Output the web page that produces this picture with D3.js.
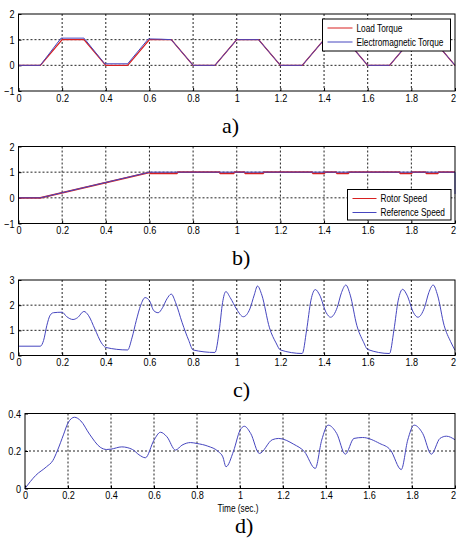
<!DOCTYPE html>
<html>
<head>
<meta charset="utf-8">
<script src="https://cdn.jsdelivr.net/npm/d3@7"></script>
<style>
    body { margin: 0; background: #fff; }
    svg { display: block; }
    .tick-label { font-family: "Liberation Sans", Arial, sans-serif; font-size: 11px; fill: #000; }
    .legend-label { font-family: "Liberation Sans", Arial, sans-serif; font-size: 10px; fill: #000; }
    .caption { font-family: "Liberation Serif", "Times New Roman", serif; font-size: 22px; fill: #000; }
</style>
</head>
<body>
<div id="viz"></div>
<script>
// x ticks shared by all panels
const timeTicks = [0, 0.2, 0.4, 0.6, 0.8, 1, 1.2, 1.4, 1.6, 1.8, 2];

// a) torque
const loadTorqueT = [0, 0.1, 0.2, 0.3, 0.4, 0.5, 0.6, 0.7, 0.8, 0.9, 1.0, 1.1, 1.2, 1.3, 1.4, 1.5, 1.6, 1.7, 1.8, 1.9, 2.0];
const loadTorqueV = [0, 0, 1, 1, 0, 0, 1, 1, 0, 0, 1, 1, 0, 0, 1, 1, 0, 0, 1, 1, 0];
const emTorqueT = [0, 0.1, 0.195, 0.3, 0.395, 0.5, 0.595, 0.65, 0.7, 0.8, 0.9, 1.0, 1.1, 1.2, 1.3, 1.4, 1.5, 1.6, 1.7, 1.8, 1.9, 2.0];
const emTorqueV = [0, 0, 1.06, 1.06, 0.06, 0.06, 1.03, 1.02, 1, 0, 0, 1, 1, 0, 0, 1, 1, 0, 0, 1, 1, 0];

// b) speed
const refSpeedT = [0, 0.1, 0.6, 2.0, 2.0];
const refSpeedV = [0, 0, 1, 1, 0.15];
const rotorSpeedT = [0, 0.1, 0.6, 0.605, 0.725, 0.73, 0.92, 0.925, 0.985, 0.99, 1.035, 1.04, 1.12, 1.125,
    1.345, 1.35, 1.4, 1.405, 1.455, 1.46, 1.51, 1.515, 1.745, 1.75, 1.8, 1.805, 1.865, 1.87, 1.92, 1.925, 2.0];
const rotorSpeedV = [0, 0, 0.99, 0.955, 0.955, 1, 1, 0.955, 0.955, 1, 1, 0.955, 0.955, 1,
    1, 0.955, 0.955, 1, 1, 0.955, 0.955, 1, 1, 0.955, 0.955, 1, 1, 0.955, 0.955, 1, 1];

// c) current
const currentT = [0, 0.1, 0.115, 0.13, 0.145, 0.16, 0.2, 0.22, 0.25, 0.27, 0.3, 0.32, 0.35, 0.38, 0.4, 0.5,
    0.52, 0.54, 0.56, 0.58, 0.6, 0.62, 0.64, 0.66, 0.68, 0.7, 0.72, 0.75, 0.78, 0.8, 0.9,
    0.92, 0.935, 0.95, 0.97, 1.0, 1.03, 1.06, 1.08, 1.095, 1.115, 1.15, 1.18, 1.2, 1.3,
    1.32, 1.34, 1.36, 1.38, 1.41, 1.43, 1.46, 1.48, 1.5, 1.52, 1.55, 1.58, 1.6, 1.7,
    1.72, 1.74, 1.76, 1.78, 1.81, 1.83, 1.86, 1.88, 1.9, 1.92, 1.95, 1.98, 2.0];
const currentV = [0.37, 0.37, 0.6, 1.2, 1.6, 1.7, 1.72, 1.55, 1.43, 1.5, 1.75, 1.6, 1.05, 0.5, 0.32, 0.22,
    0.7, 1.4, 2.0, 2.3, 2.18, 1.78, 1.7, 1.9, 2.25, 2.44, 2.1, 1.3, 0.6, 0.22, 0.12,
    1.0, 2.1, 2.54, 2.3, 1.83, 1.54, 1.85, 2.4, 2.76, 2.4, 1.1, 0.5, 0.22, 0.08,
    1.0, 2.2, 2.62, 2.4, 1.7, 1.52, 1.9, 2.5, 2.8, 2.4, 1.2, 0.55, 0.24, 0.08,
    1.0, 2.2, 2.63, 2.4, 1.7, 1.52, 1.9, 2.5, 2.8, 2.4, 1.2, 0.55, 0.21];

// d) flux / error
const fluxT = [0, 0.05, 0.1, 0.13, 0.15, 0.18, 0.2, 0.23, 0.26, 0.3, 0.35, 0.38, 0.4, 0.45, 0.5, 0.53, 0.56,
    0.6, 0.63, 0.66, 0.7, 0.73, 0.77, 0.8, 0.85, 0.9, 0.92, 0.935, 0.97, 1.0, 1.02, 1.05, 1.09,
    1.15, 1.18, 1.25, 1.3, 1.35, 1.38, 1.41, 1.45, 1.49, 1.53, 1.57, 1.65, 1.7, 1.75, 1.78,
    1.81, 1.85, 1.89, 1.93, 1.96, 2.0];
const fluxV = [0, 0.07, 0.116, 0.15, 0.2, 0.29, 0.35, 0.38, 0.36, 0.29, 0.22, 0.208, 0.21, 0.222, 0.208, 0.18, 0.164,
    0.258, 0.3, 0.276, 0.205, 0.231, 0.245, 0.24, 0.226, 0.196, 0.169, 0.116, 0.2, 0.31, 0.332, 0.293, 0.187,
    0.26, 0.267, 0.236, 0.196, 0.107, 0.258, 0.338, 0.293, 0.183, 0.267, 0.272, 0.24, 0.205, 0.101, 0.258,
    0.338, 0.293, 0.183, 0.267, 0.279, 0.26];

const blue = '#4646bf';
const red = '#d82020';
const condense = 0.83; // the original texts are set in a narrow face

const width = 457;
const height = 540;

const svg = d3.select('#viz')
              .append('svg')
              .attr('width', width)
              .attr('height', height);

const zip = (ts, vs) => ts.map((t, i) => [t, vs[i]]);

function narrow(sel) {
    sel.each(function() {
        const len = this.getComputedTextLength();
        d3.select(this)
          .attr('textLength', len * condense)
          .attr('lengthAdjust', 'spacingAndGlyphs');
    });
}

// text squeezed horizontally by a transform, so its box is the drawn one
function narrowText(parent, x, y, str, anchor) {
    return parent.append('g')
                 .attr('transform', 'translate(' + x + ',' + y + ') scale(' + condense + ',1)')
                 .append('text')
                 .attr('class', 'legend-label')
                 .attr('dy', '0.35em')
                 .attr('text-anchor', anchor || 'start')
                 .text(str);
}

function drawPanel(p) {
    const x = d3.scaleLinear().domain([0, 2]).range([p.left, p.right]);
    const y = d3.scaleLinear().domain(p.yDomain).range([p.bottom, p.top]);
    const g = svg.append('g');

    // grid
    g.selectAll('.vgrid')
     .data(timeTicks.slice(1, -1))
     .enter()
     .append('line')
     .attr('x1', d => x(d)).attr('x2', d => x(d))
     .attr('y1', p.top).attr('y2', p.bottom)
     .attr('stroke', '#222').attr('stroke-width', 1)
     .attr('stroke-dasharray', '2,2');
    g.selectAll('.hgrid')
     .data(p.yTicks.slice(1, -1))
     .enter()
     .append('line')
     .attr('x1', p.left).attr('x2', p.right)
     .attr('y1', d => y(d)).attr('y2', d => y(d))
     .attr('stroke', '#222').attr('stroke-width', 1)
     .attr('stroke-dasharray', '2,2');

    // axes with inward ticks
    const xAxis = d3.axisBottom(x).tickValues(timeTicks).tickSize(-3).tickSizeOuter(0)
                    .tickFormat(d3.format('~g'));
    const yAxis = d3.axisLeft(y).tickValues(p.yTicks).tickSize(-3).tickSizeOuter(0).tickPadding(4)
                    .tickFormat(d3.format('~g'));
    const gx = g.append('g').attr('transform', 'translate(0,' + p.bottom + ')').call(xAxis);
    const gy = g.append('g').attr('transform', 'translate(' + p.left + ',0)').call(yAxis);
    [gx, gy].forEach(a => {
        a.select('.domain').remove();
        a.selectAll('text').attr('class', 'tick-label').attr('font-size', null).attr('font-family', null);
    });
    gx.selectAll('text').attr('dy', '0.71em').attr('y', 3);
    // keep the last label inside the page edge
    gx.selectAll('text').filter(d => d === 2).attr('dx', -2);
    narrow(gx.selectAll('text'));
    narrow(gy.selectAll('text'));

    // lines
    const line = d3.line().x(d => x(d[0])).y(d => y(d[1])).curve(p.curve || d3.curveLinear);
    p.series.forEach(s => {
        g.append('path')
         .datum(s.data)
         .attr('d', line)
         .attr('fill', 'none')
         .attr('stroke', s.color)
         .attr('stroke-width', s.width || 1);
    });

    // frame
    g.append('rect')
     .attr('x', p.left).attr('y', p.top)
     .attr('width', p.right - p.left).attr('height', p.bottom - p.top)
     .attr('fill', 'none').attr('stroke', '#000').attr('stroke-width', 1);

    // legend
    if (p.legend) {
        const L = p.legend;
        const lg = g.append('g');
        lg.append('rect')
          .attr('x', L.x).attr('y', L.y).attr('width', L.w).attr('height', L.h)
          .attr('fill', '#fff').attr('stroke', '#000').attr('stroke-width', 1);
        L.items.forEach((it, i) => {
            const cy = L.y + 9 + i * 14;
            lg.append('line')
              .attr('x1', L.x + 5).attr('x2', L.x + 5 + L.lineLen)
              .attr('y1', cy).attr('y2', cy)
              .attr('stroke', it.color).attr('stroke-width', 1);
            narrowText(lg, L.x + 9 + L.lineLen, cy, it.label);
        });
    }

    if (p.xlabel) {
        narrowText(g, 238, p.bottom + 20, p.xlabel, 'middle');
    }

    svg.append('text')
       .attr('class', 'caption')
       .attr('x', p.captionX).attr('y', p.captionY)
       .text(p.caption);
}

const panels = [
    {
        left: 18.5, right: 455, top: 14, bottom: 91,
        yDomain: [-1, 2], yTicks: [-1, 0, 1, 2],
        series: [
            { data: zip(loadTorqueT, loadTorqueV), color: red, width: 1.3 },
            { data: zip(emTorqueT, emTorqueV), color: blue }
        ],
        legend: { x: 322.5, y: 19, w: 128, h: 32, lineLen: 25,
                  items: [{ label: 'Load Torque', color: red }, { label: 'Electromagnetic Torque', color: blue }] },
        caption: 'a)', captionX: 222, captionY: 133
    },
    {
        left: 18.5, right: 455, top: 146.5, bottom: 223.5,
        yDomain: [-1, 2], yTicks: [-1, 0, 1, 2],
        series: [
            { data: zip(rotorSpeedT, rotorSpeedV), color: red, width: 1.8 },
            { data: zip(refSpeedT, refSpeedV), color: blue }
        ],
        legend: { x: 347.5, y: 189.5, w: 103.5, h: 30.5, lineLen: 24,
                  items: [{ label: 'Rotor Speed', color: red }, { label: 'Reference Speed', color: blue }] },
        caption: 'b)', captionX: 232, captionY: 265
    },
    {
        left: 18.5, right: 455, top: 280, bottom: 355.5,
        yDomain: [0, 3], yTicks: [0, 1, 2, 3],
        series: [{ data: zip(currentT, currentV), color: blue }],
        curve: d3.curveMonotoneX,
        caption: 'c)', captionX: 233, captionY: 397
    },
    {
        left: 25, right: 455, top: 413.5, bottom: 488.5,
        yDomain: [0, 0.4], yTicks: [0, 0.2, 0.4],
        series: [{ data: zip(fluxT, fluxV), color: blue }],
        curve: d3.curveMonotoneX,
        xlabel: 'Time (sec.)',
        caption: 'd)', captionX: 235, captionY: 533
    }
];

panels.forEach(drawPanel);
</script>
</body>
</html>
